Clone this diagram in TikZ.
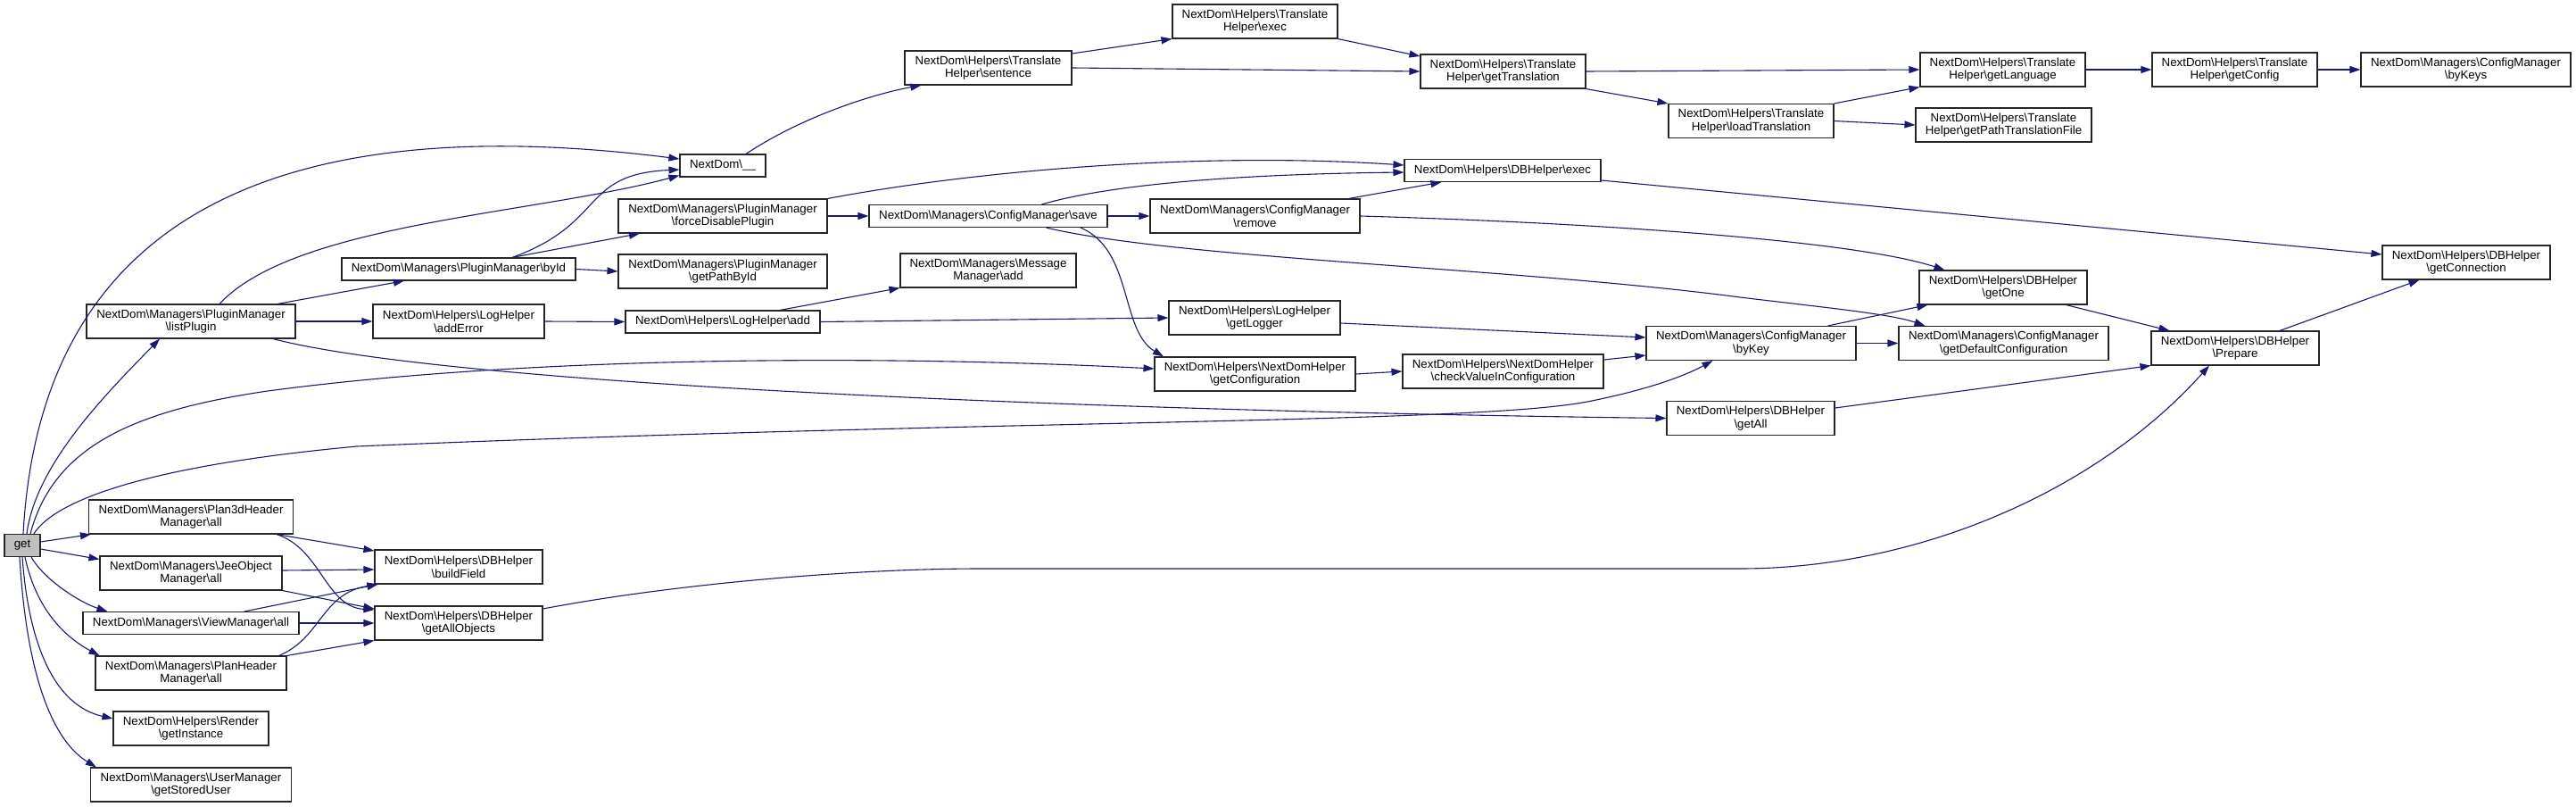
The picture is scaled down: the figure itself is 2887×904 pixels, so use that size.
\documentclass[tikz,border=0pt]{standalone}
\usepackage{fontspec}
\setmainfont{Liberation Sans}
\usepackage{tikz}
\usetikzlibrary{arrows.meta}
\definecolor{edgeblue}{HTML}{191970}
\definecolor{curgray}{HTML}{BFBFBF}
\newcommand{\bsl}{\textbackslash}

\begin{document}
\begin{tikzpicture}[x=1pt, y=-1pt, line width=1.1pt,
		fn/.style={draw=black!85, fill=white, rectangle, inner sep=0pt, align=center,
			font=\fontsize{13.3}{14.6}\selectfont, minimum height=38pt},
		fnone/.style={fn, minimum height=25pt},
		cur/.style={fnone, fill=curgray},
		call/.style={draw=edgeblue, -{Triangle[length=12pt,width=8pt]}}]

		\useasboundingbox (0,0) rectangle (2887,904);

		% first column
		\node[cur, minimum width=40pt] (get) at (25,611) {get};

		% second column
		\node[fn, minimum width=234pt] (listPlugin) at (214,360) {NextDom\bsl{}Managers\bsl{}PluginManager\\\bsl{}listPlugin};
		\node[fn, minimum width=229pt] (plan3d) at (214,579) {NextDom\bsl{}Managers\bsl{}Plan3dHeader\\Manager\bsl{}all};
		\node[fn, minimum width=204pt] (jeeObject) at (214,642) {NextDom\bsl{}Managers\bsl{}JeeObject\\Manager\bsl{}all};
		\node[fnone, minimum width=242pt] (viewAll) at (214,698) {NextDom\bsl{}Managers\bsl{}ViewManager\bsl{}all};
		\node[fn, minimum width=214pt] (planHeader) at (214,754) {NextDom\bsl{}Managers\bsl{}PlanHeader\\Manager\bsl{}all};
		\node[fn, minimum width=174pt] (getInstance) at (214,816) {NextDom\bsl{}Helpers\bsl{}Render\\\bsl{}getInstance};
		\node[fn, minimum width=225pt] (getStoredUser) at (214,879) {NextDom\bsl{}Managers\bsl{}UserManager\\\bsl{}getStoredUser};

		% third column
		\node[fnone, minimum width=262pt] (byId) at (514,301.5) {NextDom\bsl{}Managers\bsl{}PluginManager\bsl{}byId};
		\node[fn, minimum width=192pt] (addError) at (514,360) {NextDom\bsl{}Helpers\bsl{}LogHelper\\\bsl{}addError};
		\node[fn, minimum width=188pt] (buildField) at (514,635) {NextDom\bsl{}Helpers\bsl{}DBHelper\\\bsl{}buildField};
		\node[fn, minimum width=188pt] (getAllObjects) at (514,698) {NextDom\bsl{}Helpers\bsl{}DBHelper\\\bsl{}getAllObjects};

		% fourth column
		\node[fnone, minimum width=96pt] (under) at (810,185.5) {NextDom\bsl{}\_\_};
		\node[fn, minimum width=234pt] (forceDisable) at (810,242) {NextDom\bsl{}Managers\bsl{}PluginManager\\\bsl{}forceDisablePlugin};
		\node[fn, minimum width=234pt] (getPathById) at (810,304) {NextDom\bsl{}Managers\bsl{}PluginManager\\\bsl{}getPathById};
		\node[fnone, minimum width=218pt] (logAdd) at (810,360.5) {NextDom\bsl{}Helpers\bsl{}LogHelper\bsl{}add};

		% fifth column
		\node[fn, minimum width=187pt] (sentence) at (1107.5,76) {NextDom\bsl{}Helpers\bsl{}Translate\\Helper\bsl{}sentence};
		\node[fnone, minimum width=267pt] (save) at (1107.5,242) {NextDom\bsl{}Managers\bsl{}ConfigManager\bsl{}save};
		\node[fn, minimum width=197pt] (msgAdd) at (1107.5,303) {NextDom\bsl{}Managers\bsl{}Message\\Manager\bsl{}add};

		% sixth column
		\node[fn, minimum width=185pt] (trExec) at (1406.5,24) {NextDom\bsl{}Helpers\bsl{}Translate\\Helper\bsl{}exec};
		\node[fn, minimum width=235pt] (remove) at (1406.5,242) {NextDom\bsl{}Managers\bsl{}ConfigManager\\\bsl{}remove};
		\node[fn, minimum width=192pt] (getLogger) at (1406,356) {NextDom\bsl{}Helpers\bsl{}LogHelper\\\bsl{}getLogger};
		\node[fn, minimum width=225pt] (getConfiguration) at (1406.5,419) {NextDom\bsl{}Helpers\bsl{}NextDomHelper\\\bsl{}getConfiguration};

		% seventh column
		\node[fn, minimum width=185pt] (getTranslation) at (1684.5,80) {NextDom\bsl{}Helpers\bsl{}Translate\\Helper\bsl{}getTranslation};
		\node[fnone, minimum width=220pt] (dbExec) at (1684,191) {NextDom\bsl{}Helpers\bsl{}DBHelper\bsl{}exec};
		\node[fn, minimum width=225pt] (checkValue) at (1684.5,416) {NextDom\bsl{}Helpers\bsl{}NextDomHelper\\\bsl{}checkValueInConfiguration};

		% eighth column
		\node[fn, minimum width=185pt] (loadTranslation) at (1962.5,135.5) {NextDom\bsl{}Helpers\bsl{}Translate\\Helper\bsl{}loadTranslation};
		\node[fn, minimum width=235pt] (byKey) at (1962.5,384.5) {NextDom\bsl{}Managers\bsl{}ConfigManager\\\bsl{}byKey};
		\node[fn, minimum width=188pt] (getAll) at (1962,468.5) {NextDom\bsl{}Helpers\bsl{}DBHelper\\\bsl{}getAll};

		% ninth column
		\node[fn, minimum width=185pt] (getLanguage) at (2244.5,78) {NextDom\bsl{}Helpers\bsl{}Translate\\Helper\bsl{}getLanguage};
		\node[fn, minimum width=197pt] (getPathFile) at (2245.5,140) {NextDom\bsl{}Helpers\bsl{}Translate\\Helper\bsl{}getPathTranslationFile};
		\node[fn, minimum width=188pt] (getOne) at (2245,322) {NextDom\bsl{}Helpers\bsl{}DBHelper\\\bsl{}getOne};
		\node[fn, minimum width=235pt] (getDefault) at (2245.5,384.5) {NextDom\bsl{}Managers\bsl{}ConfigManager\\\bsl{}getDefaultConfiguration};

		% last columns
		\node[fn, minimum width=185pt] (getConfig) at (2504.5,78) {NextDom\bsl{}Helpers\bsl{}Translate\\Helper\bsl{}getConfig};
		\node[fn, minimum width=188pt] (prepare) at (2505,390) {NextDom\bsl{}Helpers\bsl{}DBHelper\\\bsl{}Prepare};
		\node[fn, minimum width=235pt] (byKeys) at (2763.5,78) {NextDom\bsl{}Managers\bsl{}ConfigManager\\\bsl{}byKeys};
		\node[fn, minimum width=188pt] (getConnection) at (2764,294) {NextDom\bsl{}Helpers\bsl{}DBHelper\\\bsl{}getConnection};

		% calls from get
		\draw[call] ([xshift=1pt]get.north) .. controls (45,250) and (300,120) .. ([yshift=7.5pt]under.west);
		\draw[call] ([xshift=5pt]get.north) .. controls (40,520) and (120,440) .. ([xshift=-35pt]listPlugin.south);
		\draw[call] ([xshift=9pt]get.north) .. controls (60,500) and (150,460) .. (300,438)
			.. controls (600,398) and (1000,398) .. ([yshift=6pt]getConfiguration.west);
		\draw[call] ([xshift=13pt]get.north) .. controls (55,570) and (130,525) .. (400,500)
			.. controls (1100,470) and (1650,475) .. (1779,450)
			.. controls (1850,436) and (1890,420) .. ([xshift=-43pt]byKey.south);
		\draw[call] ([yshift=4pt]get.east) -- ([xshift=3pt]plan3d.south west);
		\draw[call] ([yshift=-4pt]get.east) -- ([yshift=-4pt]jeeObject.north west);
		\draw[call] ([xshift=10pt]get.south) .. controls (50,650) and (90,675) .. ([xshift=28pt]viewAll.north west);
		\draw[call] ([xshift=3pt]get.south) .. controls (40,680) and (70,712) .. ([xshift=5pt]planHeader.north west);
		\draw[call] (get.south) .. controls (32,720) and (60,790) .. ([yshift=11pt]getInstance.west);
		\draw[call] ([xshift=-3pt]get.south) .. controls (30,760) and (60,830) .. ([xshift=7pt]getStoredUser.north west);

		% second column calls
		\draw[call] ([xshift=32pt]listPlugin.north) .. controls (330,250) and (600,240) .. ([yshift=-11pt]under.west);
		\draw[call] ([xshift=97pt]listPlugin.north) -- ([xshift=-61pt]byId.south);
		\draw[call] (listPlugin.east) -- (addError.west);
		\draw[call] ([xshift=92pt]listPlugin.south) .. controls (500,430) and (1200,460) .. (getAll.west);
		\draw[call] ([xshift=-19pt]plan3d.south east) -- ([yshift=18pt]buildField.west);
		\draw[call] ([xshift=-19pt]plan3d.south east) .. controls (360,615) and (365,680) .. ([yshift=15pt]getAllObjects.west);
		\draw[call] ([yshift=3pt]jeeObject.east) -- ([yshift=-3pt]buildField.west);
		\draw[call] (jeeObject.south east) -- ([yshift=16pt]getAllObjects.west);
		\draw[call] ([xshift=60pt]viewAll.north) -- ([xshift=4pt]buildField.south west);
		\draw[call] (viewAll.east) -- (getAllObjects.west);
		\draw[call] ([xshift=-9pt]planHeader.north east) .. controls (360,715) and (360,665) .. ([xshift=4pt]buildField.south west);
		\draw[call] (planHeader.north east) -- (getAllObjects.south west);

		% third column calls
		\draw[call] ([xshift=60pt]byId.north) .. controls (680,250) and (650,195) .. ([yshift=-4.5pt]under.west);
		\draw[call] ([xshift=60pt]byId.north) -- ([xshift=-93pt]forceDisable.south);
		\draw[call] (byId.east) -- (getPathById.west);
		\draw[call] (addError.east) -- (logAdd.west);
		\draw[call] ([yshift=16pt]getAllObjects.east) .. controls (750,655) and (950,637) .. (1100,637)
			-- (1950,637) .. controls (2150,637) and (2350,550) .. ([xshift=-29pt]prepare.south);

		% fourth column calls
		\draw[call] ([xshift=26pt]under.north) .. controls (900,130) and (980,105) .. ([xshift=19pt]sentence.south west);
		\draw[call] (forceDisable.north east) .. controls (1100,190) and (1350,170) .. ([yshift=6pt]dbExec.west);
		\draw[call] (forceDisable.east) -- (save.west);
		\draw[call] ([xshift=64pt]logAdd.north) -- (msgAdd.south west);
		\draw[call] (logAdd.east) -- (getLogger.west);

		% fifth column calls
		\draw[call] ([yshift=16pt]sentence.east) -- (trExec.south west);
		\draw[call] (sentence.east) -- (getTranslation.west);
		\draw[call] ([xshift=60pt]save.north) .. controls (1250,205) and (1400,195) .. ([yshift=-2pt]dbExec.west);
		\draw[call] (save.east) -- (remove.west);
		\draw[call] ([xshift=103.5pt]save.south) .. controls (1270,280) and (1255,370) .. ([xshift=-102.5pt]getConfiguration.north);
		\draw[call] ([xshift=65pt]save.south) .. controls (1320,290) and (1700,300) .. (1950,333)
			.. controls (2050,345) and (2120,352) .. ([xshift=30pt]getDefault.north west);

		% sixth column calls
		\draw[call] (trExec.south east) -- ([yshift=17pt]getTranslation.west);
		\draw[call] ([xshift=-13pt]remove.north east) -- ([xshift=42pt]dbExec.south west);
		\draw[call] (remove.east) .. controls (1800,250) and (2080,270) .. ([xshift=29pt]getOne.north west);
		\draw[call] ([yshift=-6pt]getLogger.east) -- ([yshift=6.5pt]byKey.west);
		\draw[call] (getConfiguration.east) -- (checkValue.west);

		% seventh column calls
		\draw[call] (getTranslation.east) -- (getLanguage.west);
		\draw[call] (getTranslation.south east) -- (loadTranslation.north west);
		\draw[call] ([yshift=-11pt]dbExec.east) -- ([yshift=9pt]getConnection.west);
		\draw[call] ([yshift=13pt]checkValue.east) -- ([yshift=-13.5pt]byKey.west);

		% eighth column calls
		\draw[call] (loadTranslation.north east) -- (getLanguage.south west);
		\draw[call] (loadTranslation.east) -- (getPathFile.west);
		\draw[call] ([xshift=-32pt]byKey.north east) -- ([xshift=10pt]getOne.south west);
		\draw[call] (byKey.east) -- (getDefault.west);
		\draw[call] ([yshift=11.5pt]getAll.east) -- (prepare.south west);

		% ninth column and beyond
		\draw[call] (getLanguage.east) -- (getConfig.west);
		\draw[call] (getConfig.east) -- (byKeys.west);
		\draw[call] ([xshift=-24pt]getOne.south east) -- ([xshift=21pt]prepare.north west);
		\draw[call] ([xshift=50pt]prepare.north) -- ([xshift=42pt]getConnection.south west);
	\end{tikzpicture}
\end{document}
